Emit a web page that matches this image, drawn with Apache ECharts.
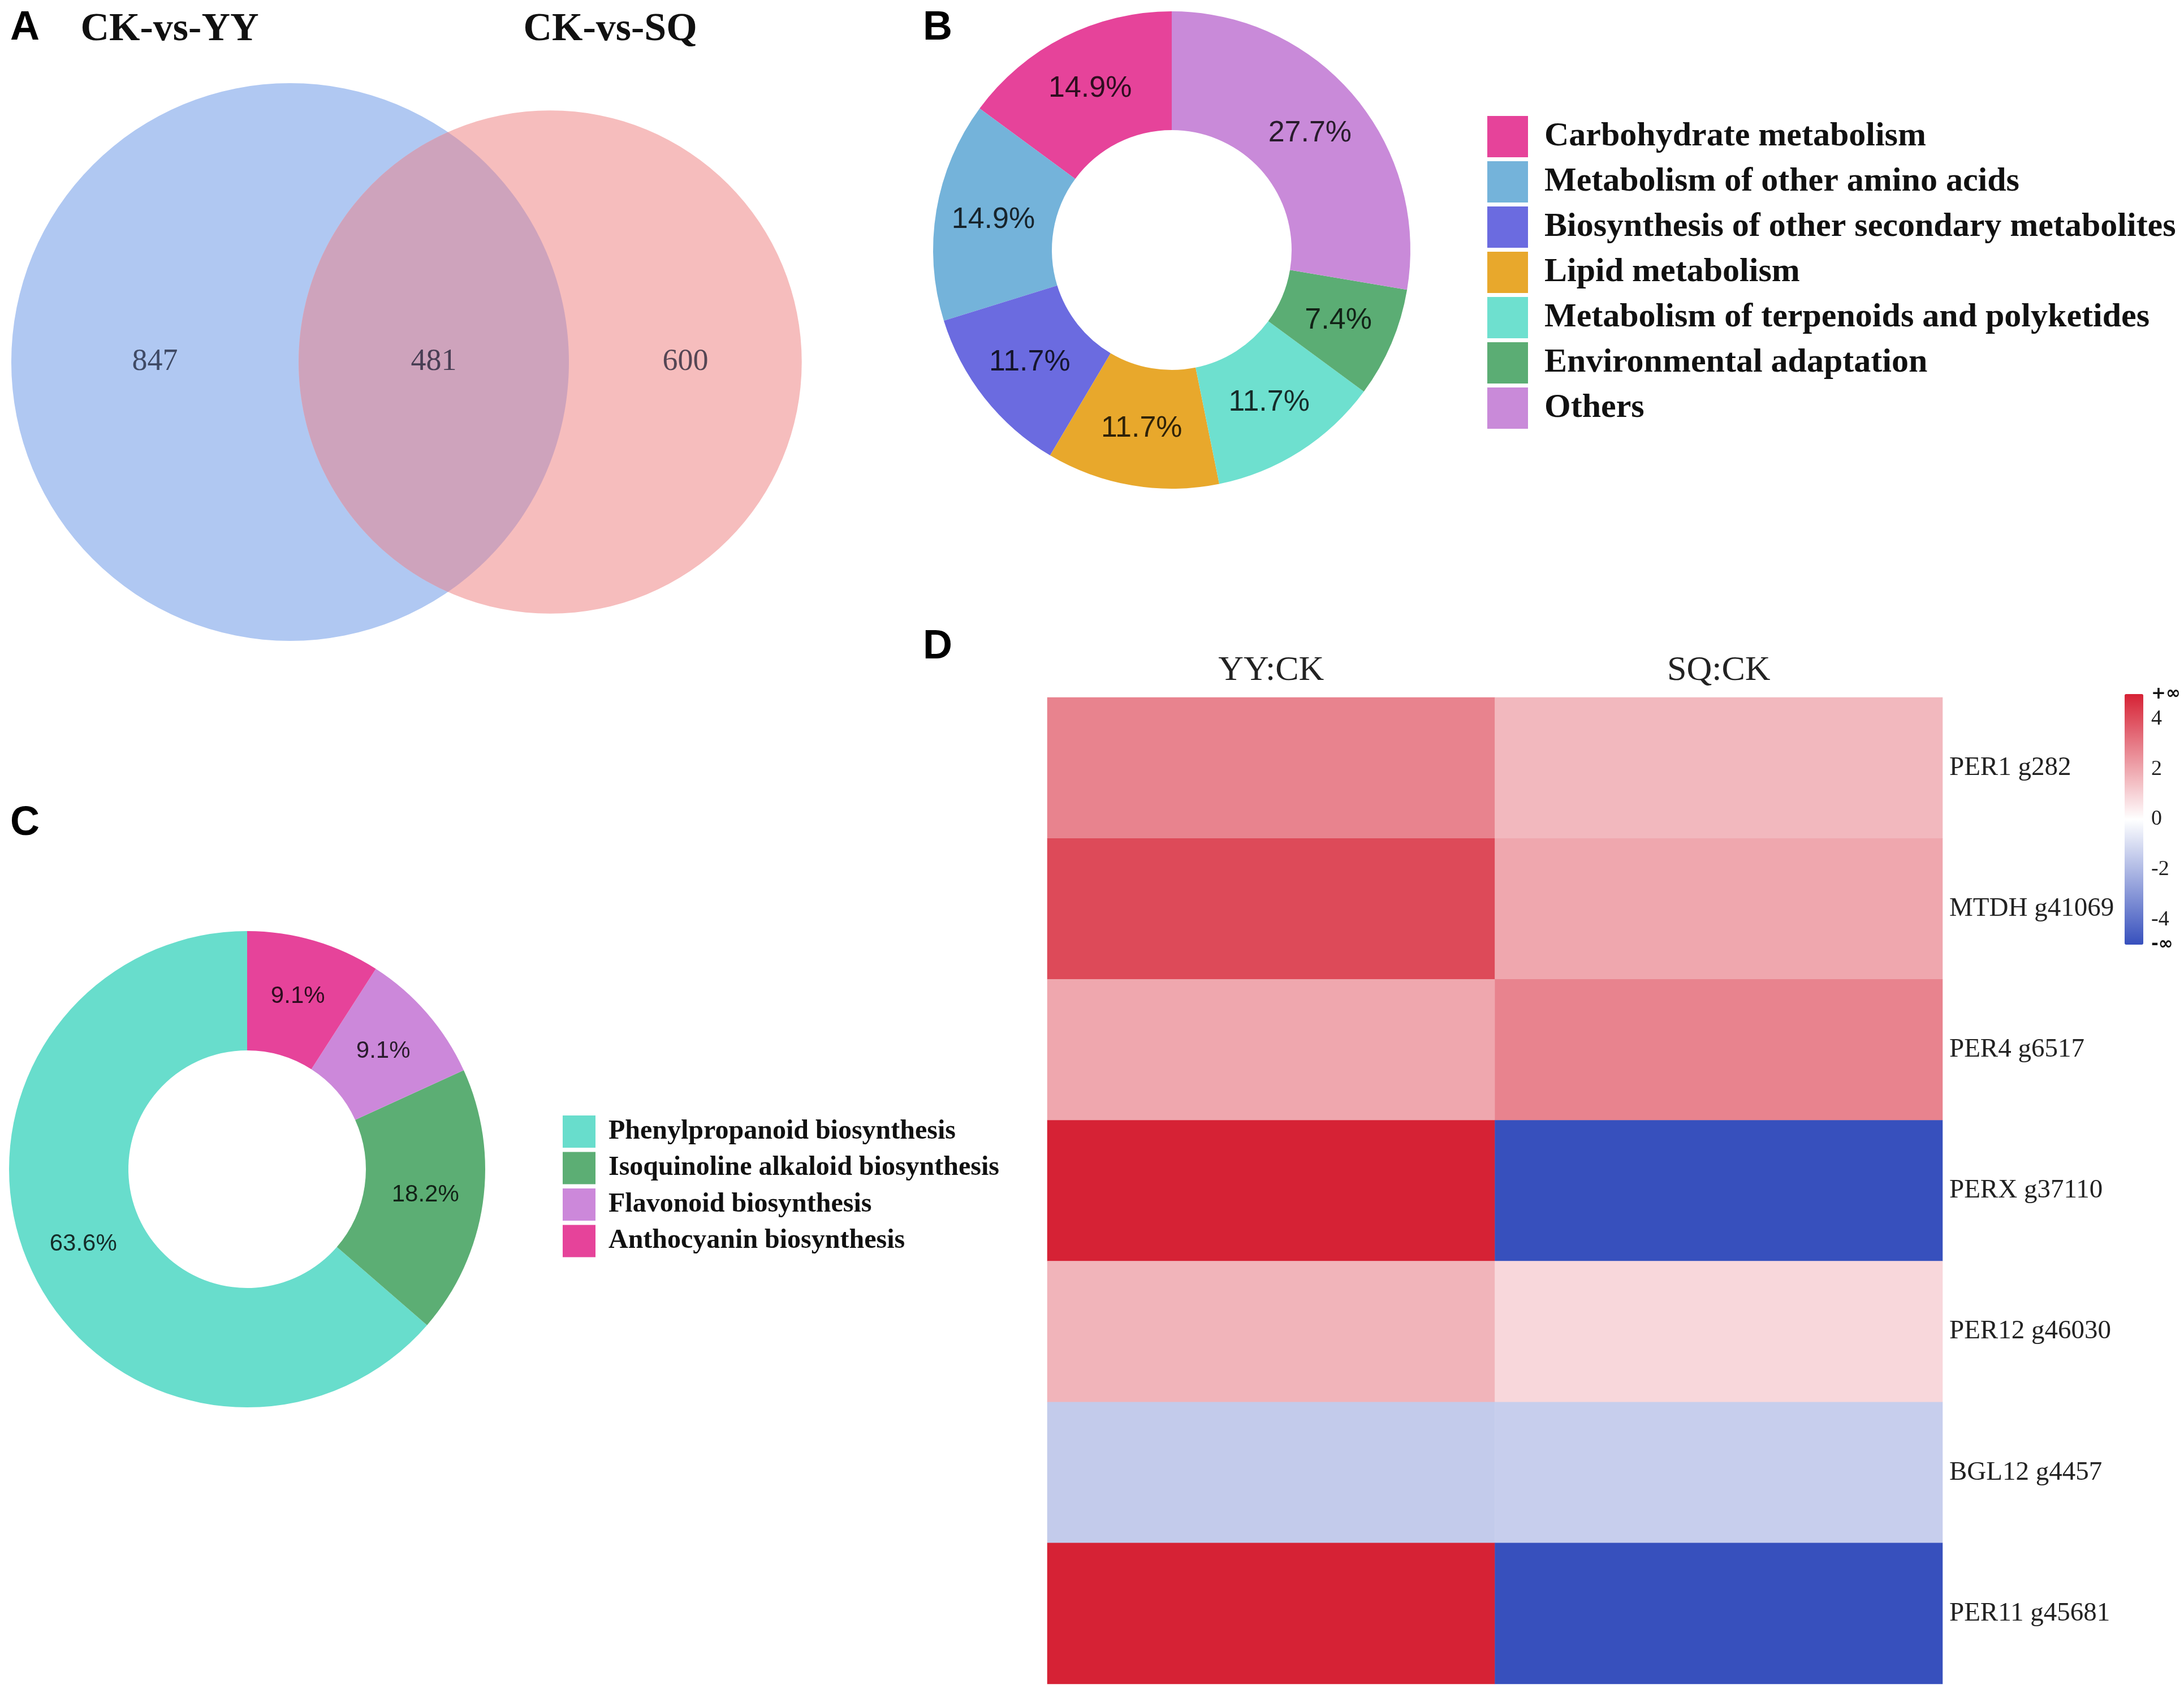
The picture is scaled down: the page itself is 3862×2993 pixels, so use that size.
<!DOCTYPE html>
<html><head><meta charset="utf-8">
<script src="https://cdn.jsdelivr.net/npm/echarts@6/dist/echarts.min.js"></script>
<style>html,body{margin:0;padding:0;background:#fff}#c{width:3862px;height:2993px}</style>
</head><body><div id="c"></div>
<script>
// ---------- data ----------
const vennNames = ['CK-vs-YY', 'CK-vs-SQ'];
const vennOnly = [847, 600];
const vennShared = 481;

const pathwaysB = ['Carbohydrate metabolism', 'Metabolism of other amino acids',
  'Biosynthesis of other secondary metabolites', 'Lipid metabolism',
  'Metabolism of terpenoids and polyketides', 'Environmental adaptation', 'Others'];
const countsB = [14, 14, 11, 11, 11, 7, 26];
const colorsB = ['#e6439a', '#74b3da', '#6b6be0', '#e8a82c', '#6ee0cf', '#5bad74', '#c98ad9'];

const pathwaysC = ['Phenylpropanoid biosynthesis', 'Isoquinoline alkaloid biosynthesis',
  'Flavonoid biosynthesis', 'Anthocyanin biosynthesis'];
const countsC = [7, 2, 1, 1];
const colorsC = ['#68ddcc', '#5cae74', '#cc88da', '#e6439a'];

const heatCols = ['YY:CK', 'SQ:CK'];
const heatRows = ['PER1 g282', 'MTDH g41069', 'PER4 g6517', 'PERX g37110',
  'PER12 g46030', 'BGL12 g4457', 'PER11 g45681'];
const fcYY = [2.8, 4.1, 2.0, 5, 1.7, -1.5, 5];
const fcSQ = [1.6, 2.0, 2.8, -5, 0.9, -1.4, -5];
const scaleMin = -5, scaleMax = 5;

// ---------- venn geometry (area proportional) ----------
const totA = vennOnly[0] + vennShared, totB = vennOnly[1] + vennShared;
const rA = Math.sqrt(totA / Math.PI), rB = Math.sqrt(totB / Math.PI);
function lensArea(d) {
  if (d >= rA + rB) return 0;
  if (d <= Math.abs(rA - rB)) return Math.PI * Math.min(rA, rB) ** 2;
  const a1 = rA * rA * Math.acos((d * d + rA * rA - rB * rB) / (2 * d * rA));
  const a2 = rB * rB * Math.acos((d * d + rB * rB - rA * rA) / (2 * d * rB));
  const t = 0.5 * Math.sqrt((-d + rA + rB) * (d + rA - rB) * (d - rA + rB) * (d + rA + rB));
  return a1 + a2 - t;
}
let lo = Math.abs(rA - rB), hi = rA + rB;
for (let i = 0; i < 100; i++) { const m = (lo + hi) / 2; if (lensArea(m) > vennShared) lo = m; else hi = m; }
const dAB = (lo + hi) / 2;
const vennCircles = [[0, 0, rA, 0], [dAB, 0, rB, 1]];
const vennFill = ['#b0c8f2', '#f6bdbd'];
const vennLabels = [
  [((-rA) + (dAB - rB)) / 2, 0, vennOnly[0]],
  [((dAB - rB) + rA) / 2, 0, vennShared],
  [(rA + dAB + rB) / 2, 0, vennOnly[1]]
];

const totalB = countsB.reduce((a, b) => a + b, 0);
const totalC = countsC.reduce((a, b) => a + b, 0);

const heatData = [];
heatRows.forEach((r, i) => { heatData.push([0, i, fcYY[i]]); heatData.push([1, i, fcSQ[i]]); });

const serif = 'Liberation Serif';
const sans = 'Liberation Sans';
const letterStyle = { fontFamily: sans, fontWeight: 'bold', fontSize: 72, color: '#000' };

const chart = echarts.init(document.getElementById('c'), null, { renderer: 'canvas', devicePixelRatio: 1 });
chart.setOption({
  backgroundColor: '#fff',
  animation: false,
  title: [
    { text: 'A', left: 18, top: 14, padding: 0, textStyle: letterStyle },
    { text: 'B', left: 1632, top: 14, padding: 0, textStyle: letterStyle },
    { text: 'C', left: 18, top: 1420, padding: 0, textStyle: letterStyle },
    { text: 'D', left: 1632, top: 1108, padding: 0, textStyle: letterStyle },
    { text: vennNames[0], left: 300, textAlign: 'center', top: 18, padding: 0,
      textStyle: { fontFamily: serif, fontWeight: 'bold', fontSize: 70, color: '#111' } },
    { text: vennNames[1], left: 1079, textAlign: 'center', top: 18, padding: 0,
      textStyle: { fontFamily: serif, fontWeight: 'bold', fontSize: 70, color: '#111' } }
  ],
  legend: [
    { data: pathwaysB, orient: 'vertical', left: 2630, top: 205, padding: 0,
      itemWidth: 72, itemHeight: 73, itemGap: 7, icon: 'rect', selectedMode: false,
      textStyle: { fontFamily: serif, fontWeight: 'bold', fontSize: 60, color: '#111', padding: [0, 0, 0, 24] } },
    { data: pathwaysC, orient: 'vertical', left: 995, top: 1972, padding: 0,
      itemWidth: 58, itemHeight: 57, itemGap: 7.5, icon: 'rect', selectedMode: false,
      textStyle: { fontFamily: serif, fontWeight: 'bold', fontSize: 48, color: '#111', padding: [0, 0, 0, 18] } }
  ],
  grid: [
    { left: 9.4, top: 136.4, width: 1438.8, height: 1007.2 },
    { left: 1852, top: 1233, width: 1583, height: 1744 },
    { left: 3757, top: 1227, width: 33, height: 443 }
  ],
  xAxis: [
    { gridIndex: 0, type: 'value', min: -21, max: 39, show: false },
    { gridIndex: 1, type: 'category', data: heatCols, position: 'top',
      axisLine: { show: false }, axisTick: { show: false }, splitLine: { show: false },
      axisLabel: { fontFamily: serif, fontSize: 62, color: '#222', margin: 16 } },
    { gridIndex: 2, type: 'value', min: 0, max: 1, show: false }
  ],
  yAxis: [
    { gridIndex: 0, type: 'value', min: -21, max: 21, show: false },
    { gridIndex: 1, type: 'category', data: heatRows, inverse: true, position: 'right',
      axisLine: { show: false }, axisTick: { show: false }, splitLine: { show: false },
      axisLabel: { fontFamily: serif, fontSize: 47, color: '#222', margin: 12, align: 'left' } },
    { gridIndex: 2, type: 'value', min: scaleMin, max: scaleMax, interval: 1, position: 'right',
      axisLine: { show: false }, axisTick: { show: false }, splitLine: { show: false },
      axisLabel: {
        margin: 14, fontFamily: serif, fontSize: 38, color: '#222', showMinLabel: true, showMaxLabel: true,
        formatter: v => v === scaleMax ? '{inf|+\u221e}' : v === scaleMin ? '{inf|-\u221e}' : (v % 2 === 0 ? String(v) : ''),
        rich: { inf: { fontFamily: 'DejaVu Sans', fontWeight: 'bold', fontSize: 31, color: '#111' } }
      } }
  ],
  visualMap: {
    type: 'continuous', seriesIndex: 5, min: scaleMin, max: scaleMax, calculable: false,
    orient: 'vertical', left: 3757, top: 1227, itemWidth: 33, itemHeight: 443, padding: 0,
    hoverLink: false, showLabel: false,
    inRange: { color: ['#3750bd', '#ffffff', '#d62235'] }
  },
  series: [
    { // venn circles
      type: 'custom', xAxisIndex: 0, yAxisIndex: 0, silent: true,
      data: vennCircles,
      renderItem: (params, api) => {
        const c = api.coord([api.value(0), api.value(1)]);
        const s = api.size([api.value(2), api.value(2)]);
        return { type: 'circle', shape: { cx: c[0], cy: c[1], r: s[0] }, style: { fill: vennFill[api.value(3)] } };
      }
    },
    { // venn overlap lens
      type: 'custom', xAxisIndex: 0, yAxisIndex: 0, silent: true,
      data: [[dAB]],
      renderItem: (params, api) => {
        const cA = api.coord([0, 0]), cB = api.coord([api.value(0), 0]);
        const RA = api.size([rA, rA])[0], RB = api.size([rB, rB])[0];
        const D = cB[0] - cA[0];
        const xi = (D * D + RA * RA - RB * RB) / (2 * D);
        const yi = Math.sqrt(RA * RA - xi * xi);
        const pts = [];
        const aA = Math.atan2(yi, xi);
        for (let i = 0; i <= 120; i++) { const t = -aA + 2 * aA * i / 120; pts.push([cA[0] + RA * Math.cos(t), cA[1] + RA * Math.sin(t)]); }
        const aB = Math.atan2(yi, xi - D);
        for (let i = 0; i <= 120; i++) { const t = aB + (2 * Math.PI - 2 * aB) * i / 120; pts.push([cB[0] + RB * Math.cos(t), cB[1] + RB * Math.sin(t)]); }
        return { type: 'polygon', shape: { points: pts }, style: { fill: '#cea3bc' } };
      }
    },
    { // venn counts
      type: 'scatter', xAxisIndex: 0, yAxisIndex: 0, silent: true, symbolSize: 1,
      itemStyle: { color: 'rgba(0,0,0,0)' },
      data: vennLabels,
      label: { show: true, position: 'inside', formatter: p => String(p.value[2]),
        fontFamily: serif, fontSize: 54, color: 'rgba(10,15,35,0.85)' }
    },
    { // pie B
      type: 'pie', center: [2072, 442], radius: [212, 422], startAngle: 90, clockwise: false,
      avoidLabelOverlap: false, silent: true,
      label: { position: 'inside', formatter: p => (p.value / totalB * 100).toFixed(1) + '%',
        fontFamily: sans, fontSize: 52, color: 'rgba(0,0,0,0.8)' },
      labelLine: { show: false },
      itemStyle: { borderWidth: 0 },
      data: pathwaysB.map((n, i) => ({ name: n, value: countsB[i], itemStyle: { color: colorsB[i] } }))
    },
    { // pie C
      type: 'pie', center: [437, 2067], radius: [210, 421], startAngle: 90, clockwise: false,
      avoidLabelOverlap: false, silent: true,
      label: { position: 'inside', formatter: p => (p.value / totalC * 100).toFixed(1) + '%',
        fontFamily: sans, fontSize: 42, color: 'rgba(0,0,0,0.8)' },
      labelLine: { show: false },
      itemStyle: { borderWidth: 0 },
      data: pathwaysC.map((n, i) => ({ name: n, value: countsC[i], itemStyle: { color: colorsC[i] } }))
    },
    { // heatmap
      type: 'heatmap', xAxisIndex: 1, yAxisIndex: 1, silent: true,
      data: heatData, label: { show: false }, itemStyle: { borderWidth: 0 }
    },
    { // empty series anchoring colour-scale axis
      type: 'scatter', xAxisIndex: 2, yAxisIndex: 2, data: [], silent: true
    }
  ]
});
</script></body></html>
